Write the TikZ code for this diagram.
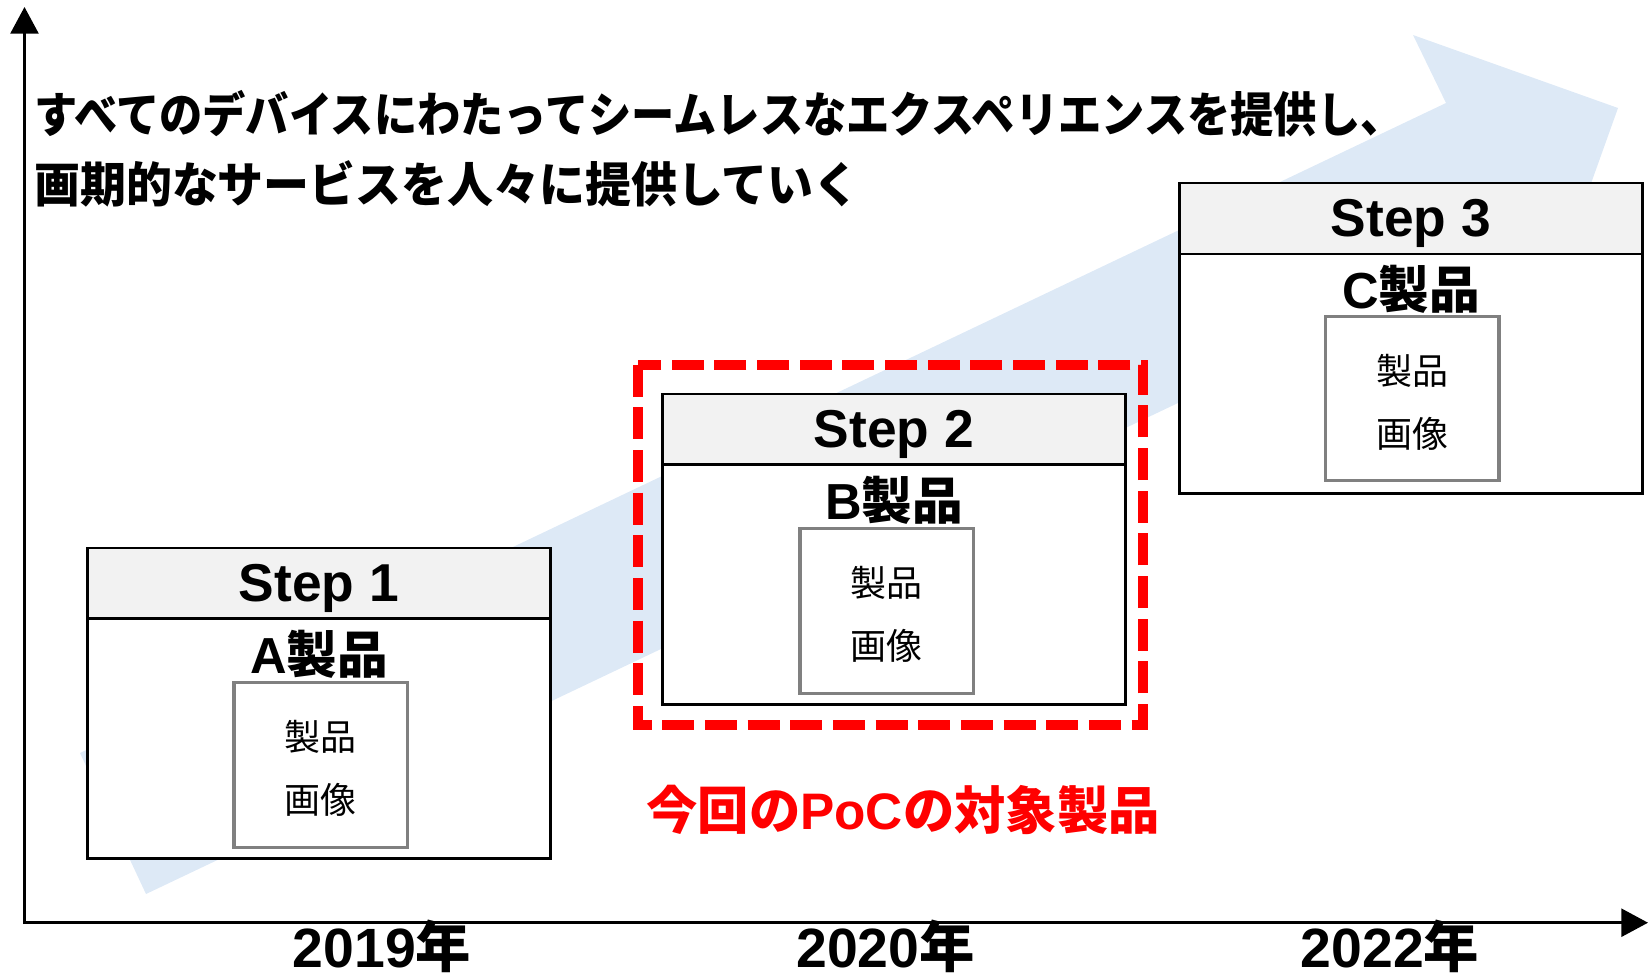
\documentclass[tikz,border=0pt]{standalone}
\usepackage{fontspec}
\usepackage{graphicx}
\setmainfont{Noto Sans CJK JP}
\newfontfamily\latf{Liberation Sans}
\usetikzlibrary{arrows.meta}
\definecolor{arrowblue}{RGB}{221,233,246}
\definecolor{headgray}{RGB}{242,242,242}
\definecolor{imggray}{RGB}{128,128,128}
\definecolor{pocred}{RGB}{255,0,0}
\begin{document}
\begin{tikzpicture}[x=0.75pt,y=-0.75pt,
  stepbox/.style={draw=black, line width=1.9pt, fill=white, minimum width=463.4*0.75pt, minimum height=310.5*0.75pt, inner sep=0pt, anchor=north},
  headbox/.style={draw=black, line width=1.9pt, fill=headgray, minimum width=463.4*0.75pt, minimum height=70.8*0.75pt, inner sep=0pt, anchor=north, text depth=0pt, font=\latf\bfseries\fontsize{40}{40}\selectfont},
  prodlabel/.style={inner sep=0pt, font=\bfseries\fontsize{38}{38}\selectfont},
  imgbox/.style={draw=imggray, line width=2.6pt, fill=white, minimum width=173.5*0.75pt, minimum height=164.5*0.75pt, inner sep=0pt, anchor=north},
  imgtext/.style={inner sep=0pt, font=\fontsize{27}{27}\selectfont},
  yearlabel/.style={inner sep=0pt, anchor=base, font=\bfseries\fontsize{41.5}{41.5}\selectfont},
  titletext/.style={inner sep=0pt, anchor=west, font=\bfseries\fontsize{36}{36}\selectfont},
  poclabel/.style={inner sep=0pt, text=pocred, font=\bfseries\fontsize{38.5}{38.5}\selectfont},
  axisline/.style={draw=black, line width=1.9pt, -{Triangle[length=20pt,width=21pt]}},
  reddash/.style={draw=pocred, line width=7.5pt, dash pattern=on 24pt off 8pt}
]
\useasboundingbox (0,0) rectangle (1648,976);

% background arrow
\fill[arrowblue] (80,753) -- (1446,103) -- (1413,35) -- (1618,108) -- (1545,312) -- (1513,243.6) -- (146,894) -- cycle;

% axes
\coordinate (origin) at (24.5,922.7);
\coordinate (ytop) at (24.5,7);
\coordinate (xend) at (1648,922.7);
\draw[axisline] (24.5,924) -- (ytop);
\draw[axisline] (origin) -- (xend);

% title
\node[titletext] (t1) at (34,114) {\resizebox{1027pt}{\height}{すべてのデバイスにわたってシームレスなエクスペリエンスを提供し、}};
\node[titletext] (t2) at (34,184) {\resizebox{619pt}{\height}{画期的なサービスを人々に提供していく}};

% Step 1
\node[stepbox] (s1) at (319,546.5) {};
\node[headbox] (h1) at (319,546.5) {Step 1};
\node[prodlabel] (p1) at (319,654) {{\latf\bfseries A}製品};
\node[imgbox] (i1) at (320.7,681) {};
\node[imgtext] (a1) at (320.7,736.5) {製品};
\node[imgtext] (b1) at (320.7,799.5) {画像};

% Step 2
\node[stepbox] (s2) at (894,392.5) {};
\node[headbox] (h2) at (894,392.5) {Step 2};
\node[prodlabel] (p2) at (894,500.3) {{\latf\bfseries B}製品};
\node[imgbox] (i2) at (886.7,527) {};
\node[imgtext] (a2) at (886.7,582.5) {製品};
\node[imgtext] (b2) at (886.7,645.5) {画像};

% Step 3
\node[stepbox] (s3) at (1411,181.7) {};
\node[headbox] (h3) at (1411,181.7) {Step 3};
\node[prodlabel] (p3) at (1411,289) {{\latf\bfseries C}製品};
\node[imgbox] (i3) at (1412.3,314.5) {};
\node[imgtext] (a3) at (1412.3,371) {製品};
\node[imgtext] (b3) at (1412.3,434) {画像};

% PoC highlight
\draw[reddash] (638.3,364.7) rectangle (1143,724.7);
\node[poclabel] (poc) at (903,810) {今回の{\latf\bfseries PoC}の対象製品};

% years
\node[yearlabel] (y1) at (382,967) {{\latf\bfseries 2019}年};
\node[yearlabel] (y2) at (885.5,967) {{\latf\bfseries 2020}年};
\node[yearlabel] (y3) at (1390,967) {{\latf\bfseries 2022}年};
\end{tikzpicture}
\end{document}
